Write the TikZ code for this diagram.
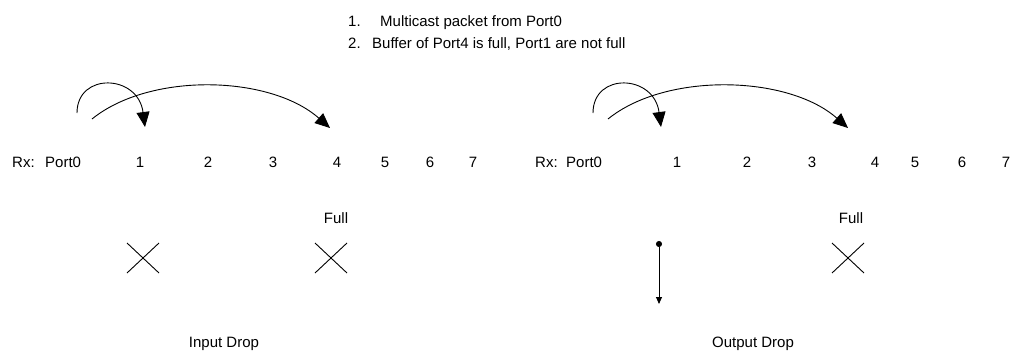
\documentclass[tikz,border=0pt]{standalone}
\usepackage{fontspec}
\setmainfont{Liberation Sans}
\usetikzlibrary{arrows.meta}
\begin{document}
\begin{tikzpicture}[x=1pt,y=-1pt,
  txt/.style={inner sep=0pt,font=\fontsize{15}{18}\selectfont},
  lbl/.style={txt,anchor=base west},
  num/.style={txt,anchor=base},
  arc/.style={line width=0.9pt,-{Triangle[length=15pt,width=13pt]}},
  xmark/.style={line width=0.9pt},
  droparrow/.style={line width=0.9pt,{Circle[length=6pt]}-{Triangle[length=7pt,width=6pt]}}]
\useasboundingbox (0,0) rectangle (1010,351);
% heading
\node[lbl] (n1) at (348,26) {1.};
\node[lbl] (t1) at (380,26) {Multicast packet from Port0};
\node[lbl] (n2) at (348,48) {2.};
\node[lbl] (t2) at (372,48) {Buffer of Port4 is full, Port1 are not full};
% left row
\node[lbl] (lrx) at (12,167) {Rx:};
\node[lbl] (lp0) at (45,167) {Port0};
\node[num] (lp1) at (140,167) {1};
\node[num] (lp2) at (208,167) {2};
\node[num] (lp3) at (273,167) {3};
\node[num] (lp4) at (337,167) {4};
\node[num] (lp5) at (385,167) {5};
\node[num] (lp6) at (430,167) {6};
\node[num] (lp7) at (473,167) {7};
% right row
\node[lbl] (rrx) at (535,167) {Rx:};
\node[lbl] (rp0) at (566,167) {Port0};
\node[num] (rp1) at (677,167) {1};
\node[num] (rp2) at (747,167) {2};
\node[num] (rp3) at (812,167) {3};
\node[num] (rp4) at (875,167) {4};
\node[num] (rp5) at (915,167) {5};
\node[num] (rp6) at (962,167) {6};
\node[num] (rp7) at (1006,167) {7};
% full labels
\node[num] (lfull) at (336,223) {Full};
\node[num] (rfull) at (851,223) {Full};
% drop labels
\node[num] (ldrop) at (224,347) {Input Drop};
\node[num] (rdrop) at (753,347) {Output Drop};
% arc end points
\coordinate (la1s) at (77,113);  \coordinate (la1e) at (145,127);
\coordinate (la2s) at (92,119);  \coordinate (la2e) at (330,128);
\coordinate (ra1s) at (593,113); \coordinate (ra1e) at (661,127);
\coordinate (ra2s) at (608,119); \coordinate (ra2e) at (848,128);
\draw[arc] (la1s) .. controls (77,72) and (138,74) .. (la1e);
\draw[arc] (la2s) .. controls (150,72) and (270,75) .. (la2e);
\draw[arc] (ra1s) .. controls (593,72) and (654,74) .. (ra1e);
\draw[arc] (ra2s) .. controls (666,72) and (788,75) .. (ra2e);
% crosses
\coordinate (lx1) at (143,258);
\coordinate (lx2) at (331,258);
\coordinate (rx1) at (848,258);
\foreach \c in {lx1,lx2,rx1}{
  \draw[xmark] ([shift={(-16,-15)}]\c) -- ([shift={(16,15)}]\c);
  \draw[xmark] ([shift={(-16,15)}]\c) -- ([shift={(16,-15)}]\c);
}
% output drop arrow
\coordinate (ds) at (659,241);
\coordinate (de) at (659,304);
\draw[droparrow] (ds) -- (de);
\end{tikzpicture}
\end{document}
